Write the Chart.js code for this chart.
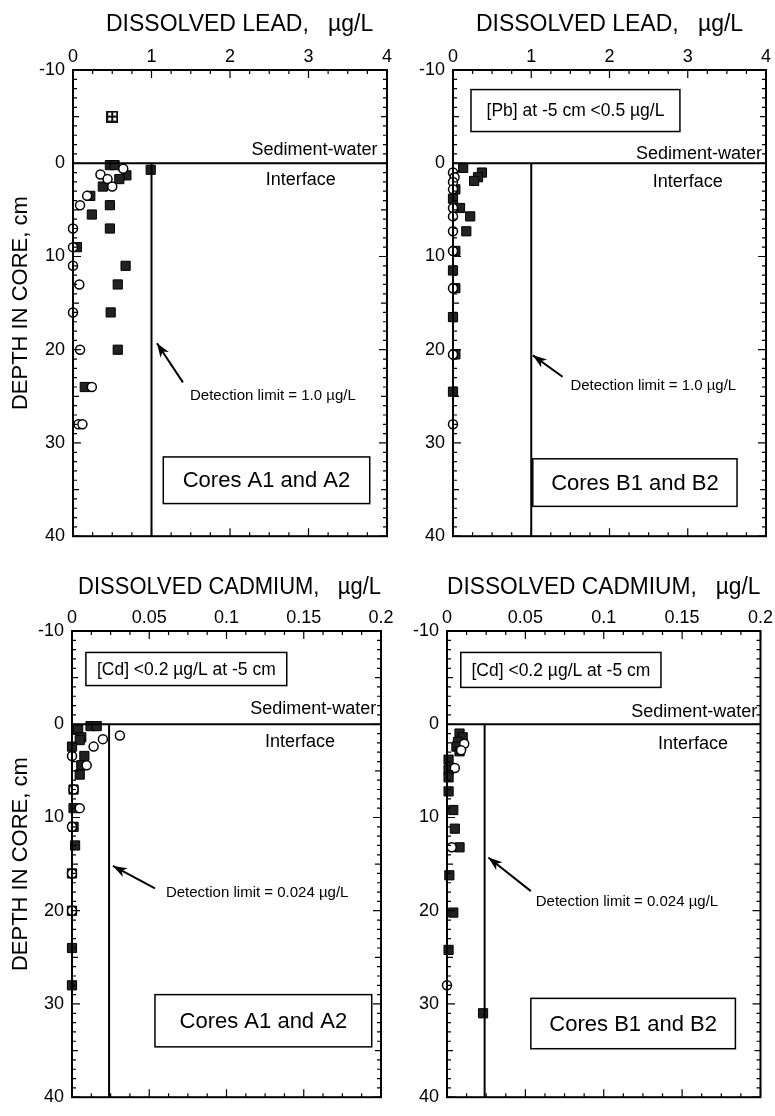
<!DOCTYPE html>
<html>
<head>
<meta charset="utf-8">
<script src="https://cdn.jsdelivr.net/npm/chart.js@4.4.1/dist/chart.umd.min.js"></script>
<style>
  html, body { margin: 0; padding: 0; background: #fff; }
  body { width: 775px; height: 1116px; position: relative; overflow: hidden; }
  .panel { position: absolute; }
</style>
</head>
<body>
<div class="panel" style="left:0;top:0"><canvas id="pbA" width="400" height="555"></canvas></div>
<div class="panel" style="left:400px;top:0"><canvas id="pbB" width="375" height="555"></canvas></div>
<div class="panel" style="left:0;top:560px"><canvas id="cdA" width="400" height="556"></canvas></div>
<div class="panel" style="left:400px;top:560px"><canvas id="cdB" width="375" height="556"></canvas></div>
<script>
// tick labels
var depthTicks = [-10, 0, 10, 20, 30, 40];
var leadTicks = [0, 1, 2, 3, 4];
var cadmiumTicks = [0, 0.05, 0.1, 0.15, 0.2];

var INTERFACE = 0;     // sediment-water interface, cm
var PB_LIMIT = 1.0;    // detection limits, ug/L
var CD_LIMIT = 0.024;

// [concentration, depth cm]
var pbA_squares = [[0.47,0.2],[0.53,0.2],[0.99,0.7],[0.68,1.3],[0.59,1.7],[0.38,2.5],[0.22,3.5],[0.47,4.5],
  [0.24,5.5],[0.47,7],[0.05,9],[0.67,11],[0.57,13],[0.48,16],[0.57,20],[0.15,24]];
var pbA_circles = [[0.64,0.6],[0.35,1.2],[0.44,1.7],[0.50,2.5],[0.18,3.5],[0.09,4.5],[0,7],[0,9],[0,11],
  [0.08,13],[0,16],[0.09,20],[0.24,24],[0.07,28],[0.12,28]];
var pbA_water = [[0.5,-5]];

var pbB_squares = [[0.13,0.5],[0.37,1.0],[0.32,1.5],[0.27,1.9],[0.03,2.8],[0,3.8],[0.09,4.8],[0.22,5.7],
  [0.17,7.3],[0.03,9.4],[0,11.5],[0.03,13.4],[0,16.5],[0.03,20.5],[0,24.5]];
var pbB_circles = [[0,1.0],[0.02,1.5],[0,2],[0,2.8],[0,4.8],[0,5.7],[0,7.3],[0,9.4],[0,13.4],[0,20.5],[0,28]];

var cdA_squares = [[0.012,0.2],[0.016,0.2],[0.004,0.6],[0.006,1.4],[0.005,1.7],[0,2.4],[0.008,3.4],[0.006,4.4],
  [0.005,5.4],[0.001,7],[0.001,9],[0.001,11],[0.002,13],[0,16],[0,20],[0,24],[0,28]];
var cdA_circles = [[0.031,1.2],[0.020,1.6],[0.014,2.4],[0,3.4],[0.0095,4.4],[0.001,7],[0.005,9],[0,11],[0,16],[0,20]];

var cdB_squares = [[0.008,1.0],[0.010,1.4],[0.007,1.9],[0.006,2.4],[0.008,2.9],[0.001,3.8],[0.001,4.9],[0.001,5.7],
  [0.001,7.2],[0.004,9.2],[0.005,11.2],[0.008,13.2],[0.0015,16.2],[0.004,20.2],[0.001,24.2],[0.023,31]];
var cdB_circles = [[0.011,2.1],[0.009,2.8],[0.005,4.7],[0.003,13.2],[0,28]];

Chart.defaults.font.family = "'Liberation Sans', Arial, Helvetica, sans-serif";
Chart.defaults.color = '#000';

// hatched square for the overlying-water sample
var hatch = document.createElement('canvas');
hatch.width = hatch.height = 12;
var hg = hatch.getContext('2d');
hg.fillStyle = '#111'; hg.fillRect(0, 0, 12, 12);
hg.fillStyle = '#fff'; hg.fillRect(2, 2, 3, 3); hg.fillRect(7, 2, 3, 3); hg.fillRect(2, 7, 3, 3); hg.fillRect(7, 7, 3, 3);

var FONT = "'Liberation Sans', Arial, Helvetica, sans-serif";

// box, inward ticks and notes
var framePlugin = {
  id: 'frame',
  afterDraw: function(chart, args, o) {
    var ctx = chart.ctx, a = chart.chartArea, x = chart.scales.x, y = chart.scales.y;
    ctx.save();
    ctx.strokeStyle = '#000';
    ctx.lineWidth = 2;
    ctx.strokeRect(a.left, a.top, a.right - a.left, a.bottom - a.top);
    ctx.lineWidth = 1.2;
    ctx.beginPath();
    var nx = Math.round((x.max - x.min) / o.xMinor);
    for (var i = 0; i <= nx; i++) {
      var px = x.getPixelForValue(x.min + i * o.xMinor);
      var len = i % 4 === 0 ? 8 : 4;
      ctx.moveTo(px, a.top); ctx.lineTo(px, a.top + len);
      ctx.moveTo(px, a.bottom); ctx.lineTo(px, a.bottom - len);
    }
    for (var d = y.min; d <= y.max; d++) {
      var py = y.getPixelForValue(d);
      var l = d % 10 === 0 ? 8 : (d % 5 === 0 ? 6 : 4);
      ctx.moveTo(a.left, py); ctx.lineTo(a.left + l, py);
      ctx.moveTo(a.right, py); ctx.lineTo(a.right - l, py);
    }
    ctx.stroke();

    ctx.fillStyle = '#000';
    (o.notes || []).forEach(function(n) {
      if (n.type === 'text') {
        ctx.font = n.size + 'px ' + FONT;
        ctx.textAlign = n.align || 'left';
        ctx.textBaseline = 'middle';
        ctx.fillText(n.text, x.getPixelForValue(n.x), y.getPixelForValue(n.y));
      } else if (n.type === 'box') {
        var x1 = x.getPixelForValue(n.x1), x2 = x.getPixelForValue(n.x2);
        var y1 = y.getPixelForValue(n.y1), y2 = y.getPixelForValue(n.y2);
        ctx.lineWidth = 1.5;
        ctx.strokeRect(x1, y1, x2 - x1, y2 - y1);
        ctx.font = n.size + 'px ' + FONT;
        ctx.textAlign = 'center';
        ctx.textBaseline = 'middle';
        ctx.fillText(n.text, (x1 + x2) / 2, (y1 + y2) / 2 + 1);
      } else if (n.type === 'arrow') {
        var tx = x.getPixelForValue(n.x1), ty = y.getPixelForValue(n.y1);
        var hx = x.getPixelForValue(n.x2), hy = y.getPixelForValue(n.y2);
        var ang = Math.atan2(hy - ty, hx - tx);
        ctx.lineWidth = 2;
        ctx.beginPath(); ctx.moveTo(tx, ty); ctx.lineTo(hx, hy); ctx.stroke();
        ctx.beginPath();
        ctx.moveTo(hx, hy);
        ctx.lineTo(hx - 14 * Math.cos(ang) + 5 * Math.sin(ang), hy - 14 * Math.sin(ang) - 5 * Math.cos(ang));
        ctx.lineTo(hx - 10 * Math.cos(ang), hy - 10 * Math.sin(ang));
        ctx.lineTo(hx - 14 * Math.cos(ang) - 5 * Math.sin(ang), hy - 14 * Math.sin(ang) + 5 * Math.cos(ang));
        ctx.closePath();
        ctx.fill();
      }
    });
    ctx.restore();
  }
};

function pts(arr) {
  return arr.map(function(p) { return {x: p[0], y: p[1]}; });
}

function panel(id, o) {
  var xmin = o.ticks[0], xmax = o.ticks[o.ticks.length - 1];
  var ymin = depthTicks[0], ymax = depthTicks[depthTicks.length - 1];
  var sets = [
    {data: [{x: xmin, y: INTERFACE}, {x: xmax, y: INTERFACE}], showLine: true, pointRadius: 0,
     borderColor: '#000', borderWidth: 2},
    {data: [{x: o.limit, y: INTERFACE}, {x: o.limit, y: ymax}], showLine: true, pointRadius: 0,
     borderColor: '#000', borderWidth: 2},
    {data: pts(o.circles), pointStyle: 'circle', pointRadius: 4.5, backgroundColor: '#fff',
     borderColor: '#000', borderWidth: 1.5, clip: false},
    {data: pts(o.squares), pointStyle: 'rect', pointRadius: 6.5, backgroundColor: '#222',
     borderColor: '#000', borderWidth: 1, clip: false}
  ];
  if (o.water) sets.push({data: pts(o.water), pointStyle: hatch, pointRadius: 6, clip: false});

  return new Chart(document.getElementById(id), {
    type: 'scatter',
    data: {datasets: sets},
    options: {
      responsive: false,
      animation: false,
      devicePixelRatio: 1,
      events: [],
      layout: {padding: {left: 0, top: 0, right: o.padRight, bottom: o.padBottom}},
      plugins: {
        legend: {display: false},
        tooltip: {enabled: false},
        frame: {xMinor: o.minor, notes: o.notes}
      },
      scales: {
        x: {
          type: 'linear', position: 'top', min: xmin, max: xmax,
          afterBuildTicks: function(s) { s.ticks = o.ticks.map(function(v) { return {value: v}; }); },
          afterFit: function(s) { s.height = o.xHeight; },
          grid: {display: false, drawTicks: false},
          border: {display: false},
          ticks: {autoSkip: false, maxRotation: 0, padding: 2, color: '#000', font: {size: 18},
                  callback: function(v) { return String(Math.round(v * 1000) / 1000); }},
          title: {display: true, text: o.title, color: '#000', font: {size: 23},
                  padding: {top: o.titlePad, bottom: 0}}
        },
        y: {
          type: 'linear', reverse: true, min: ymin, max: ymax,
          afterBuildTicks: function(s) { s.ticks = depthTicks.map(function(v) { return {value: v}; }); },
          afterFit: function(s) { s.width = o.yWidth; },
          grid: {display: false, drawTicks: false},
          border: {display: false},
          ticks: {autoSkip: false, padding: 8, color: '#000', font: {size: 18}},
          title: {display: !!o.yTitle, text: 'DEPTH IN CORE, cm', color: '#000', font: {size: 22},
                  padding: {top: 8, bottom: 0}}
        }
      }
    },
    plugins: [framePlugin]
  });
}

panel('pbA', {
  ticks: leadTicks, minor: 0.25, limit: PB_LIMIT, title: '   DISSOLVED LEAD,   \u00b5g/L', yTitle: true,
  squares: pbA_squares, circles: pbA_circles, water: pbA_water,
  xHeight: 70, yWidth: 73, padRight: 13, padBottom: 15, titlePad: 11,
  notes: [
    {type: 'text', text: 'Sediment-water', x: 3.88, y: -1.4, size: 18, align: 'right'},
    {type: 'text', text: 'Interface', x: 2.9, y: 1.8, size: 18, align: 'center'},
    {type: 'arrow', x1: 1.40, y1: 23.5, x2: 1.07, y2: 19.3},
    {type: 'text', text: 'Detection limit = 1.0 \u00b5g/L', x: 1.49, y: 24.9, size: 15},
    {type: 'box', text: 'Cores A1 and A2', x1: 1.15, x2: 3.78, y1: 31.5, y2: 36.5, size: 22}
  ]
});

panel('pbB', {
  ticks: leadTicks, minor: 0.25, limit: PB_LIMIT, title: 'DISSOLVED LEAD,   \u00b5g/L', yTitle: false,
  squares: pbB_squares, circles: pbB_circles,
  xHeight: 70, yWidth: 53, padRight: 9, padBottom: 15, titlePad: 11,
  notes: [
    {type: 'box', text: '[Pb] at -5 cm <0.5 \u00b5g/L', x1: 0.23, x2: 2.90, y1: -7.9, y2: -3.4, size: 17.5},
    {type: 'text', text: 'Sediment-water', x: 3.95, y: -1.0, size: 18, align: 'right'},
    {type: 'text', text: 'Interface', x: 3.0, y: 2.0, size: 18, align: 'center'},
    {type: 'arrow', x1: 1.40, y1: 22.9, x2: 1.02, y2: 20.6},
    {type: 'text', text: 'Detection limit = 1.0 \u00b5g/L', x: 1.50, y: 23.9, size: 15},
    {type: 'box', text: 'Cores B1 and B2', x1: 1.02, x2: 3.63, y1: 31.7, y2: 36.8, size: 22}
  ]
});

panel('cdA', {
  ticks: cadmiumTicks, minor: 0.0125, limit: CD_LIMIT, title: ' DISSOLVED CADMIUM,   \u00b5g/L', yTitle: true,
  squares: cdA_squares, circles: cdA_circles,
  xHeight: 71, yWidth: 72, padRight: 19, padBottom: 6, titlePad: 14,
  notes: [
    {type: 'box', text: '[Cd] <0.2 \u00b5g/L at -5 cm', x1: 0.009, x2: 0.139, y1: -7.7, y2: -4.15, size: 17.5},
    {type: 'text', text: 'Sediment-water', x: 0.197, y: -1.6, size: 18, align: 'right'},
    {type: 'text', text: 'Interface', x: 0.1476, y: 1.9, size: 18, align: 'center'},
    {type: 'arrow', x1: 0.0537, y1: 17.6, x2: 0.0265, y2: 15.2},
    {type: 'text', text: 'Detection limit = 0.024 \u00b5g/L', x: 0.0608, y: 18.1, size: 15},
    {type: 'box', text: 'Cores A1 and A2', x1: 0.0537, x2: 0.194, y1: 29.0, y2: 34.6, size: 22}
  ]
});

panel('cdB', {
  ticks: cadmiumTicks, minor: 0.0125, limit: CD_LIMIT, title: 'DISSOLVED CADMIUM,   \u00b5g/L', yTitle: false,
  squares: cdB_squares, circles: cdB_circles,
  xHeight: 71, yWidth: 47, padRight: 10, padBottom: 6, titlePad: 14,
  notes: [
    {type: 'box', text: '[Cd] <0.2 \u00b5g/L at -5 cm', x1: 0.0088, x2: 0.1365, y1: -7.7, y2: -3.95, size: 17.5},
    {type: 'text', text: 'Sediment-water', x: 0.198, y: -1.3, size: 18, align: 'right'},
    {type: 'text', text: 'Interface', x: 0.157, y: 2.1, size: 18, align: 'center'},
    {type: 'arrow', x1: 0.0535, y1: 17.9, x2: 0.0264, y2: 14.3},
    {type: 'text', text: 'Detection limit = 0.024 \u00b5g/L', x: 0.0566, y: 19.1, size: 15},
    {type: 'box', text: 'Cores B1 and B2', x1: 0.0535, x2: 0.184, y1: 29.4, y2: 34.8, size: 22}
  ]
});
</script>
</body>
</html>
